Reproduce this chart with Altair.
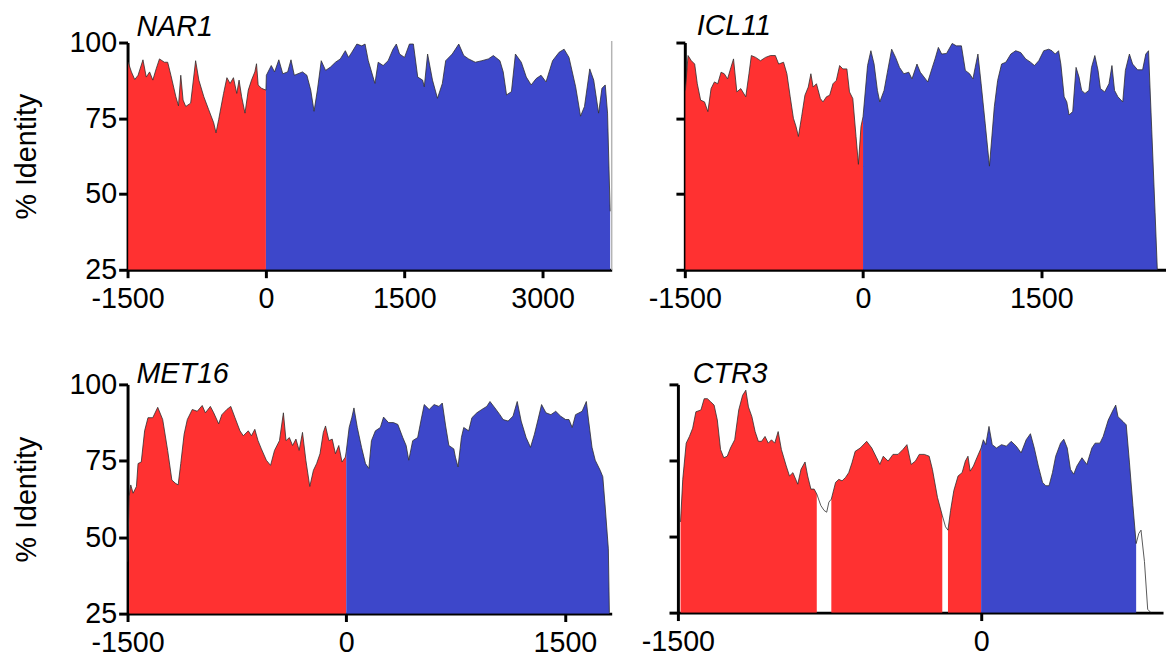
import altair as alt
import pandas as pd

# ---------------- data ----------------
NAR1_POS = [-1493, -1458, -1422, -1386, -1333, -1297, -1261, -1226, -1190, -1154, -1101, -1065, -1030,
            -976, -948, -923, -898, -869, -816, -762, -727, -673, -620, -566, -541, -512, -459, -423,
            -388, -352, -316, -291, -263, -227, -191, -156, -120, -102, -84, -48, 0, 5, 58, 94, 140,
            183, 236, 272, 308, 397, 444, 486, 522, 558, 600, 647, 700, 754, 807, 861, 896, 932, 986,
            1039, 1075, 1110, 1182, 1217, 1271, 1325, 1378, 1414, 1449, 1503, 1556, 1599, 1646, 1699,
            1717, 1753, 1806, 1860, 1913, 1949, 2020, 2091, 2145, 2198, 2270, 2341, 2412, 2466, 2537,
            2573, 2609, 2662, 2705, 2769, 2823, 2876, 2930, 2983, 3037, 3108, 3179, 3233, 3286, 3358,
            3411, 3454, 3511, 3554, 3607, 3643, 3679, 3704, 3732]
NAR1_ID = [93.5, 90.3, 87.8, 89.2, 94.3, 88.6, 90.3, 87.6, 91.3, 94.6, 93.5, 93.5, 89.2,
           82.1, 79.1, 89.2, 81.0, 78.9, 80.0, 94.0, 87.6, 82.1, 77.8, 73.5, 70.2, 74.6, 83.2, 88.4,
           86.5, 88.4, 83.2, 87.6, 82.1, 76.7, 84.3, 87.6, 90.3, 93.0, 86.0, 84.9, 84.3, 89.2, 92.4, 90.3, 94.3,
           89.7, 90.3, 94.3, 89.2, 90.3, 89.2, 84.3, 77.3, 84.3, 94.0, 90.8, 91.9, 93.5, 94.6, 97.3, 95.1, 96.8, 99.5,
           98.9, 99.5, 94.0, 86.5, 93.5, 92.4, 94.0, 97.8, 99.5, 96.2, 95.1, 99.5, 99.5, 88.6, 87.6,
           85.4, 96.2, 87.6, 81.6, 86.5, 94.0, 96.2, 99.5, 95.7, 94.6, 93.5, 94.0, 94.6, 95.7, 94.0,
           90.3, 82.7, 83.8, 96.2, 93.5, 88.6, 86.0, 88.1, 89.2, 87.0, 94.0, 96.8, 97.8, 95.1, 85.4,
           75.7, 78.9, 91.3, 87.6, 76.7, 84.9, 86.0, 76.7, 44.3]

ICL11_POS = [-1495, -1473, -1445, -1417, -1395, -1367, -1334, -1306, -1279, -1251, -1223, -1195, -1168,
             -1140, -1112, -1090, -1062, -1029, -987, -960, -940, -904, -863, -821, -779, -738, -710,
             -669, -641, -613, -586, -564, -544, -517, -489, -461, -439, -420, -392, -359, -337, -308,
             -281, -253, -225, -197, -170, -136, -114, -86, -59, -39, -17, 0, 38, 66, 93, 121, 141, 177,
             205, 241, 274, 307, 343, 385, 412, 454, 482, 545, 579, 606, 634, 662, 703, 750, 786, 828,
             861, 897, 925, 944, 967, 994, 1028, 1064, 1105, 1133, 1166, 1202, 1244, 1285, 1327, 1369,
             1410, 1443, 1479, 1521, 1563, 1590, 1618, 1646, 1665, 1693, 1715, 1734, 1765, 1793, 1818,
             1840, 1868, 1901, 1923, 1951, 1978, 1998, 2034, 2070, 2095, 2117, 2145, 2186, 2208, 2242,
             2269, 2311, 2353, 2380, 2403, 2430, 2458, 2477]
ICL11_ID = [84.2, 95.7, 94.0, 92.9, 86.4, 81.0, 80.4, 77.2, 84.8, 87.0, 86.4, 90.2, 89.7,
            88.0, 91.8, 94.6, 83.7, 84.8, 82.1, 89.7, 95.7, 95.1, 94.0, 95.1, 95.7, 95.7, 92.9,
            93.5, 89.7, 82.1, 75.0, 72.3, 69.0, 75.5, 82.6, 85.3, 89.7, 85.3, 86.4, 81.5, 80.4, 82.1,
            82.6, 86.4, 87.5, 92.4, 91.3, 91.3, 83.7, 81.5, 69.0, 59.8, 72.3, 75.5, 92.4, 97.3, 92.9, 84.2, 80.4, 84.2,
            90.2, 97.8, 95.1, 91.8, 89.7, 90.2, 88.0, 92.9, 90.2, 87.0, 91.3, 94.6, 98.4, 96.2, 96.4, 99.7, 98.9, 98.9,
            90.8, 89.7, 88.0, 91.8, 96.2, 86.4, 73.4, 59.2, 78.8, 87.5, 92.9, 93.5, 96.2, 97.3, 96.7, 94.6,
            93.5, 92.4, 94.0, 97.3, 97.8, 97.3, 96.2, 97.3, 92.9, 82.1, 80.4, 76.1, 77.2, 91.8, 88.6,
            84.2, 83.2, 84.2, 91.8, 95.7, 90.8, 84.8, 83.7, 86.4, 92.4, 84.2, 82.1, 80.4, 90.8, 96.2,
            92.9, 91.0, 91.0, 96.2, 97.3, 71.2, 44.0, 25.0]

MET16_POS = [-1500, -1489, -1478, -1462, -1439, -1428, -1406, -1383, -1360, -1327, -1293, -1259, -1225,
             -1196, -1173, -1153, -1135, -1112, -1090, -1056, -1022, -988, -966, -932, -909, -875, -853,
             -819, -792, -763, -729, -706, -672, -650, -627, -605, -582, -548, -519, -492, -458, -431,
             -413, -390, -368, -345, -323, -300, -277, -250, -225, -203, -180, -157, -142, -119, -96,
             -74, -51, -29, -6, 0, 20, 38, 53, 76, 105, 132, 155, 173, 200, 234, 256, 290, 324, 354, 388,
             411, 429, 456, 490, 512, 535, 569, 603, 636, 659, 682, 704, 738, 749, 767, 790, 806, 840,
             862, 896, 930, 964, 986, 1020, 1054, 1076, 1110, 1144, 1173, 1200, 1234, 1264, 1291, 1313,
             1340, 1370, 1404, 1437, 1471, 1505, 1528, 1550, 1573, 1618, 1647, 1663, 1686, 1708, 1742,
             1760, 1776, 1798, 1805]
MET16_ID = [42.0, 63.4, 67.1, 64.4, 66.6, 74.1, 74.6, 84.8, 89.1, 89.1, 92.5, 88.5, 78.4,
            68.7, 67.7, 67.1, 74.1, 83.7, 88.5, 91.8, 91.2, 93.1, 90.7, 92.8, 90.7, 87.1, 90.1,
            91.8, 92.8, 89.1, 84.8, 83.2, 84.8, 83.2, 85.3, 81.6, 78.9, 75.2, 73.5, 78.4, 81.6, 90.7,
            81.6, 82.6, 80.0, 82.1, 78.4, 84.3, 75.2, 66.6, 71.9, 74.1, 77.3, 84.3, 86.4, 81.6, 82.1,
            77.3, 80.0, 74.6, 76.2, 78.0, 85.9, 89.1, 92.3, 85.9, 79.4, 74.1, 72.5, 81.6, 84.8, 85.9, 89.3, 87.5, 87.5, 86.9, 82.6,
            80.0, 75.2, 81.6, 82.6, 88.0, 93.4, 91.8, 93.4, 92.8, 93.9, 86.4, 80.0, 78.9, 76.2, 73.0, 82.6, 85.9, 84.8,
            89.1, 90.7, 91.8, 92.8, 94.4, 92.3, 90.1, 88.5, 88.0, 89.6, 94.4, 88.0, 82.6, 79.4, 83.7, 88.0,
            93.4, 90.7, 90.1, 91.2, 89.6, 88.5, 88.5, 85.9, 90.1, 91.2, 94.4, 88.0, 79.4, 75.2, 71.9,
            69.8, 60.2, 46.2, 25.3]

CTR3_POS = [-1487, -1476, -1459, -1443, -1427, -1411, -1386, -1370, -1354, -1338, -1321, -1305, -1289,
            -1273, -1256, -1240, -1219, -1199, -1180, -1164, -1151, -1134, -1118, -1102, -1086, -1069,
            -1053, -1037, -1021, -1004, -988, -964, -948, -931, -907, -891, -871, -858, -842, -826, -813,
            -793, -777, -764, -753, -741, -720, -704, -688, -671, -655, -639, -623, -598, -566, -541,
            -517, -501, -484, -460, -436, -411, -387, -367, -346, -325, -306, -281, -257, -241, -216,
            -192, -176, -164, -151, -135, -114, -94, -78, -65, -54, -38, -21, 0, 11, 23, 39, 55, 76, 101,
            125, 149, 174, 198, 223, 244, 263, 283, 304, 320, 336, 353, 369, 393, 409, 426, 442, 458,
            474, 499, 523, 548, 564, 588, 604, 629, 653, 666, 677, 702, 718, 734, 751, 767, 780, 791,
            808, 824, 840]
CTR3_ID = [54.8, 68.8, 80.7, 82.9, 85.6, 91.0, 91.6, 95.3, 95.3, 94.3, 93.2, 88.3, 78.6,
           75.9, 76.4, 79.1, 81.8, 91.6, 96.4, 98.1, 92.6, 89.4, 84.5, 81.3, 81.3, 82.9,
           80.7, 81.8, 80.7, 84.5, 78.6, 73.2, 69.9, 71.0, 67.2, 72.1, 74.5, 69.9, 65.6, 65.6, 64.0,
           60.2, 58.6, 58.0, 61.3, 62.3, 67.8, 68.8, 68.3, 69.4, 71.0, 74.2, 78.0, 79.1, 81.3, 79.1,
           75.9, 73.7, 76.4, 74.8, 77.0, 77.0, 78.6, 80.2, 73.7, 74.8, 77.0, 77.0, 76.4, 72.1, 62.9,
           56.9, 53.2, 52.1, 58.6, 65.1, 69.9, 71.0, 74.8, 76.4, 71.5, 73.2, 75.9, 79.1, 81.8, 80.2, 86.2, 80.2, 79.1, 80.2,
           79.7, 81.3, 79.7, 77.5, 81.8, 83.8, 79.1, 73.2, 67.8, 66.7, 66.7, 71.0, 76.4, 80.7, 82.0, 79.1, 72.1, 70.5,
           73.2, 75.9, 73.7, 79.1, 80.7, 80.7, 82.9, 88.3, 91.6, 93.2, 89.4, 87.8, 86.7, 74.2, 60.2, 47.7, 51.0, 52.1,
           41.8, 26.1, 25.0]

GENES = ["NAR1", "ICL11", "MET16", "CTR3"]
POSITIONS = {"NAR1": NAR1_POS, "ICL11": ICL11_POS, "MET16": MET16_POS, "CTR3": CTR3_POS}
IDENTITY = {"NAR1": NAR1_ID, "ICL11": ICL11_ID, "MET16": MET16_ID, "CTR3": CTR3_ID}
X_DOMAINS = {"NAR1": [-1500, 3749], "ICL11": [-1500, 2550], "MET16": [-1500, 1821], "CTR3": [-1500, 900]}
X_TICKS = {"NAR1": [-1500, 0, 1500, 3000], "ICL11": [-1500, 0, 1500],
           "MET16": [-1500, 0, 1500], "CTR3": [-1500, 0]}
Y_TICKS = [25, 50, 75, 100]
# stretches of the curve that are left unshaded (below the conservation cut-off)
UNSHADED = {"NAR1": [], "ICL11": [], "MET16": [(-1501, -1489)],
            "CTR3": [(-813, -741), (-192, -164), (767, 901)]}
REGIONS = ["upstream", "coding"]
REGION_COLORS = ["#ff3131", "#3d47ca"]
BORDER_GENES = ["NAR1"]  # panels whose right frame edge shows as a faint grey line

FONT = "Liberation Sans"
FS = 29


def area_table(gene):
    pos, ident, gaps = POSITIONS[gene], IDENTITY[gene], UNSHADED[gene]
    runs, cur = [], []
    for p, v in zip(pos, ident):
        if any(a < p < b for a, b in gaps):
            if cur:
                runs.append(cur)
                cur = []
        else:
            cur.append((p, v))
    if cur:
        runs.append(cur)
    rows, seg = [], 0
    for run in runs:
        parts = ([(p, v) for p, v in run if p <= 0], [(p, v) for p, v in run if p >= 0])
        for part, reg in zip(parts, REGIONS):
            if len(part) >= 2:
                seg += 1
                rows += [dict(pos=p, ident=v, seg=seg, region=reg) for p, v in part]
    return pd.DataFrame(rows)


def panel(gene, left, width, height, title_dx, title_dy):
    line_df = pd.DataFrame({"pos": POSITIONS[gene], "ident": IDENTITY[gene]})
    xs = alt.Scale(domain=X_DOMAINS[gene], nice=False, zero=False)
    ys = alt.Scale(domain=[25, 100], nice=False, zero=False)
    xax = alt.Axis(values=X_TICKS[gene], labelExpr="'' + datum.value", title=None, grid=False,
                   domainColor="black", domainWidth=3, tickColor="black", tickWidth=3,
                   tickSize=8, labelPadding=7, labelFont=FONT, labelFontSize=FS,
                   labelColor="black", labelOverlap=False, labelFlush=False)
    yax = alt.Axis(values=Y_TICKS, title="% Identity" if left else None, labels=left,
                   grid=False, domainColor="black", domainWidth=3, tickColor="black",
                   tickWidth=3, tickSize=9, labelPadding=2, labelFont=FONT, labelFontSize=FS,
                   labelColor="black", titleFont=FONT, titleFontSize=FS, titleFontWeight="normal",
                   titleColor="black", titlePadding=28, labelOverlap=False)
    layers = []
    if gene in BORDER_GENES:
        layers.append(alt.Chart(pd.DataFrame({"pos": [X_DOMAINS[gene][1]]})).mark_rule(
            color="#b4b4b4", strokeWidth=1.5).encode(
            x=alt.X("pos:Q", scale=xs, axis=xax), y=alt.datum(100.5, scale=ys), y2=alt.datum(25)))
    area = alt.Chart(area_table(gene)).mark_area(clip=True, opacity=1).encode(
        x=alt.X("pos:Q", scale=xs, axis=xax),
        y=alt.Y("ident:Q", scale=ys, axis=yax, stack=None),
        y2=alt.datum(25),
        detail="seg:N",
        color=alt.Color("region:N", scale=alt.Scale(domain=REGIONS, range=REGION_COLORS), legend=None),
    )
    line = alt.Chart(line_df).mark_line(color="#2e2e2e", strokeWidth=0.8, clip=True).encode(
        x=alt.X("pos:Q", scale=xs),
        y=alt.Y("ident:Q", scale=ys),
    )
    layers += [area, line]
    return alt.layer(*layers).properties(
        width=width, height=height,
        title=alt.TitleParams(gene, anchor="start", frame="group", font=FONT, fontSize=FS,
                              fontStyle="italic", fontWeight="normal", color="black",
                              offset=0, dx=title_dx, dy=title_dy),
    )


top = alt.hconcat(panel("NAR1", True, 490, 230, 9, 13),
                  panel("ICL11", False, 487, 230, 12, 0), spacing=35)
bottom = alt.hconcat(panel("MET16", True, 490, 232, 9, 19),
                     panel("CTR3", False, 491, 231, 15, 6), spacing=29)
chart = alt.vconcat(top, bottom, spacing=47).properties(
    padding={"left": 4, "top": 0, "right": 0, "bottom": 0}
).configure_view(stroke=None)

chart.save("out.html", embed_options={"renderer": "svg", "actions": False})
